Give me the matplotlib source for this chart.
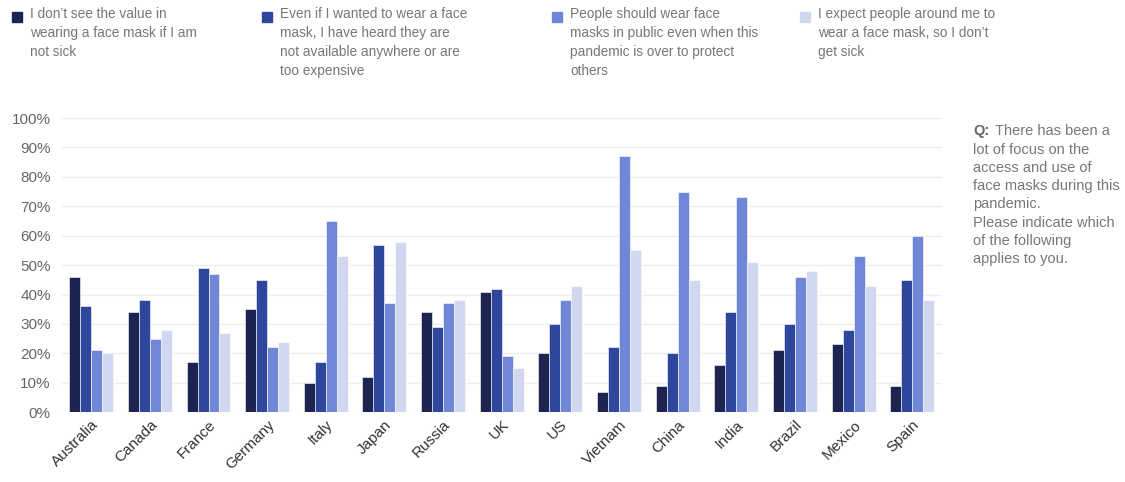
import numpy as np
import matplotlib
matplotlib.use("Agg")
from matplotlib import pyplot as plt
from matplotlib.patches import Rectangle

plt.rcParams['font.family'] = ['Liberation Sans', 'DejaVu Sans']

countries = ["Australia", "Canada", "France", "Germany", "Italy", "Japan", "Russia", "UK",
             "US", "Vietnam", "China", "India", "Brazil", "Mexico", "Spain"]

no_value = [46, 34, 17, 35, 10, 12, 34, 41, 20, 7, 9, 16, 21, 23, 9]
not_available = [36, 38, 49, 45, 17, 57, 29, 42, 30, 22, 20, 34, 30, 28, 45]
protect_others = [21, 25, 47, 22, 65, 37, 37, 19, 38, 87, 75, 73, 46, 53, 60]
expect_others = [20, 28, 27, 24, 53, 58, 38, 15, 43, 55, 45, 51, 48, 43, 38]

series_labels = [
    "I don\u2019t see the value in\nwearing a face mask if I am\nnot sick",
    "Even if I wanted to wear a face\nmask, I have heard they are\nnot available anywhere or are\ntoo expensive",
    "People should wear face\nmasks in public even when this\npandemic is over to protect\nothers",
    "I expect people around me to\nwear a face mask, so I don\u2019t\nget sick",
]
colors = ["#1b2550", "#2e479c", "#6f87d6", "#d0d8f1"]

series = [no_value, not_available, protect_others, expect_others]

fig = plt.figure(figsize=(11.25, 4.82), dpi=100)
ax = fig.add_axes([0.055, 0.145, 0.782, 0.61])

x = np.arange(len(countries))
w = 0.1875
for i, vals in enumerate(series):
    ax.bar(x + (i - 1.5) * w, vals, width=w, color=colors[i], edgecolor="white",
           linewidth=0.4, zorder=3)

ax.set_xlim(-0.5, len(countries) - 0.5)
ax.set_ylim(0, 100)
ax.set_yticks(np.arange(0, 101, 10))
ax.set_yticklabels([f"{v}%" for v in range(0, 101, 10)])
ax.yaxis.grid(True, color="#eeeeee", linewidth=1, zorder=0)
ax.set_axisbelow(True)
for s in ax.spines.values():
    s.set_visible(False)
ax.tick_params(axis="y", length=0, labelsize=11, labelcolor="#666666", pad=8)
ax.tick_params(axis="x", length=0, labelsize=11, labelcolor="#333333", pad=4)
ax.set_xticks(x)
ax.set_xticklabels(countries, rotation=45, ha="right", rotation_mode="anchor")

# legend across the top
leg_x = [12, 262, 552, 800]
for i, lab in enumerate(series_labels):
    px = leg_x[i]
    fig.patches.append(Rectangle((px / 1125, 1 - 22 / 482), 10 / 1125, 10 / 482,
                                 transform=fig.transFigure, color=colors[i]))
    fig.text((px + 18) / 1125, 1 - 7 / 482, lab, ha="left", va="top", fontsize=9.8,
             color="#777777", linespacing=1.46)

# question note on the right
fig.text(973 / 1125, 1 - 124 / 482, "Q:", ha="left", va="top", fontsize=10.5,
         color="#666666", fontweight="bold")
fig.text(995 / 1125, 1 - 124 / 482, "There has been a", ha="left", va="top",
         fontsize=10.5, color="#777777")
fig.text(973 / 1125, 1 - 142.5 / 482,
         "lot of focus on the\naccess and use of\nface masks during this\n"
         "pandemic.\nPlease indicate which\nof the following\napplies to you.",
         ha="left", va="top", fontsize=10.5, color="#777777", linespacing=1.39)

fig.savefig("out.png", dpi=100)
